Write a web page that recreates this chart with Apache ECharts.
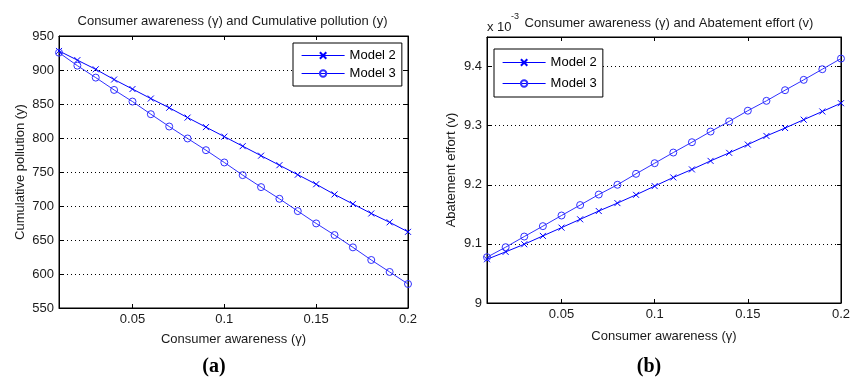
<!DOCTYPE html>
<html><head><meta charset="utf-8">
<script src="https://cdn.jsdelivr.net/npm/echarts@6/dist/echarts.min.js"></script>
<style>html,body{margin:0;padding:0;background:#fff}#c{width:853px;height:380px}</style>
</head><body><div id="c"></div>
<script>
// Data
const awareness = [0.01,0.02,0.03,0.04,0.05,0.06,0.07,0.08,0.09,0.10,0.11,0.12,0.13,0.14,0.15,0.16,0.17,0.18,0.19,0.20];
const pollutionModel2 = [928,914.5,901,886,872,858,844.5,830,816,802,788,774,760,746,732,717,703,689,676,662];
const pollutionModel3 = [925.5,906.4,888.8,870.7,853.6,835,816.9,799.3,782.1,764,745.4,727.8,710.6,692.5,674.4,657.3,639.2,620.6,603,585.3];
const effortModel2 = [9.074,9.0865,9.0994,9.1135,9.1275,9.1416,9.1556,9.169,9.183,9.1978,9.2124,9.226,9.2404,9.254,9.268,9.2826,9.296,9.3101,9.324,9.338];
const effortModel3 = [9.0775,9.0944,9.1124,9.130,9.148,9.1657,9.1835,9.2,9.2185,9.2365,9.2545,9.272,9.290,9.3073,9.3253,9.342,9.360,9.3775,9.3955,9.4135];
const xTicks = [0.05,0.1,0.15,0.2];
const seriesNames = ['Model 2','Model 3'];
const titleA = 'Consumer awareness (γ) and Cumulative pollution (y)';
const titleB = 'Consumer awareness (γ) and Abatement effort (v)';
const xName = 'Consumer awareness (γ)';
const yNameA = 'Cumulative pollution (y)';
const yNameB = 'Abatement effort (v)';

const FONT = '"Liberation Sans", Arial, sans-serif';
const TXT = '#1a1a1a';
const C2 = '#0000ff', C3 = '#3030ff';
const crossPath = 'path://M0,0L10,10M10,0L0,10';
const circlePath = 'path://M5,0A5,5 0 1,1 5,10A5,5 0 1,1 5,0Z';

function xAx(grid, pos, labels){
  return {type:'value', gridIndex:grid, position:pos, min:0.01, max:0.2,
    axisLine:{show:true, lineStyle:{color:'#000', width:1}},
    axisTick:{show:true, inside:true, length:4, customValues:xTicks, lineStyle:{color:'#000'}},
    axisLabel:{show:labels, customValues:xTicks, color:TXT, fontSize:13, fontFamily:FONT, margin:5},
    splitLine:{show:false},
    name: labels ? xName : '', nameLocation:'middle', nameGap: grid===0?25:27,
    nameTextStyle:{color:TXT, fontSize:13, fontFamily:FONT}};
}
function yAx(grid, pos, labels, min, max, interval, name, gap){
  return {type:'value', gridIndex:grid, position:pos, min:min, max:max, interval:interval,
    axisLine:{show:true, lineStyle:{color:'#000', width:1}},
    axisTick:{show:true, inside:true, length:4, lineStyle:{color:'#000'}},
    axisLabel:{show:labels, color:TXT, fontSize:13, fontFamily:FONT, margin:5, showMaxLabel: max%interval===0 ? true : false},
    splitLine:{show:labels, lineStyle:{color:'#000', type:[1,3], width:1}},
    name: labels ? name : '', nameLocation:'middle', nameGap:gap,
    nameTextStyle:{color:TXT, fontSize:13, fontFamily:FONT}};
}
function mk(name, xi, yi, vals, color, sym, size){
  const isCircle = sym === circlePath;
  return {name:name, type:'line', xAxisIndex:xi, yAxisIndex:yi,
    data: awareness.map((x,i)=>[x, vals[i]]),
    symbol:sym, symbolSize:size, showAllSymbol:true,
    lineStyle:{color:color, width:1},
    itemStyle:{color: isCircle ? 'rgba(255,255,255,0)' : color, borderColor:color, borderWidth:1},
    emphasis:{disabled:true}, animation:false};
}
function legend(left, top, gap, pad){
  return {left:left, top:top, orient:'vertical', data:seriesNames,
    itemWidth:43, itemHeight:8, itemGap:gap, padding:pad,
    borderColor:'#000', borderWidth:1, backgroundColor:'#fff',
    lineStyle:{color:C2, width:1.2},
    textStyle:{color:'#000', fontSize:13, fontFamily:FONT}, selectedMode:false};
}

const chart = echarts.init(document.getElementById('c'), null, {renderer:'canvas'});
chart.setOption({
  animation:false,
  backgroundColor:'#fff',
  grid:[
    {left:59, top:36, width:349, height:272, show:true, borderColor:'#000', borderWidth:1, backgroundColor:'#fff'},
    {left:487, top:37, width:359, height:266, show:true, borderColor:'#000', borderWidth:1, backgroundColor:'#fff'}
  ],
  xAxis:[ xAx(0,'bottom',true), xAx(0,'top',false), xAx(1,'bottom',true), xAx(1,'top',false) ],
  yAxis:[
    yAx(0,'left',true,550,950,50,yNameA,32), yAx(0,'right',false,550,950,50,'',0),
    yAx(1,'left',true,9,9.45,0.1,yNameB,29), yAx(1,'right',false,9,9.45,0.1,'',0)
  ],
  legend:[ legend(293,43,5,[6,6,6,8]), legend(494,49,8,[7,6,7,8]) ],
  series:[
    mk('Model 2',0,0,pollutionModel2,C2,crossPath,6),
    mk('Model 3',0,0,pollutionModel3,C3,circlePath,7),
    mk('Model 2',2,2,effortModel2,C2,crossPath,6),
    mk('Model 3',2,2,effortModel3,C3,circlePath,7)
  ],
  graphic:[
    {type:'text', style:{text:titleA, x:232.5, y:21, fill:TXT, font:'13px '+FONT, textAlign:'center', textVerticalAlign:'middle'}},
    {type:'text', style:{text:titleB, x:669, y:23, fill:TXT, font:'13px '+FONT, textAlign:'center', textVerticalAlign:'middle'}},
    {type:'text', style:{text:'x 10', x:487, y:27, fill:TXT, font:'13px '+FONT, textAlign:'left', textVerticalAlign:'middle'}},
    {type:'text', style:{text:'-3', x:511, y:17, fill:TXT, font:'9px '+FONT, textAlign:'left', textVerticalAlign:'middle'}},
    {type:'text', style:{text:'(a)', x:214, y:367, fill:'#000', font:'bold 20px "Liberation Serif", "DejaVu Serif", serif', textAlign:'center', textVerticalAlign:'middle'}},
    {type:'text', style:{text:'(b)', x:649, y:367, fill:'#000', font:'bold 20px "Liberation Serif", "DejaVu Serif", serif', textAlign:'center', textVerticalAlign:'middle'}}
  ]
});
</script></body></html>
